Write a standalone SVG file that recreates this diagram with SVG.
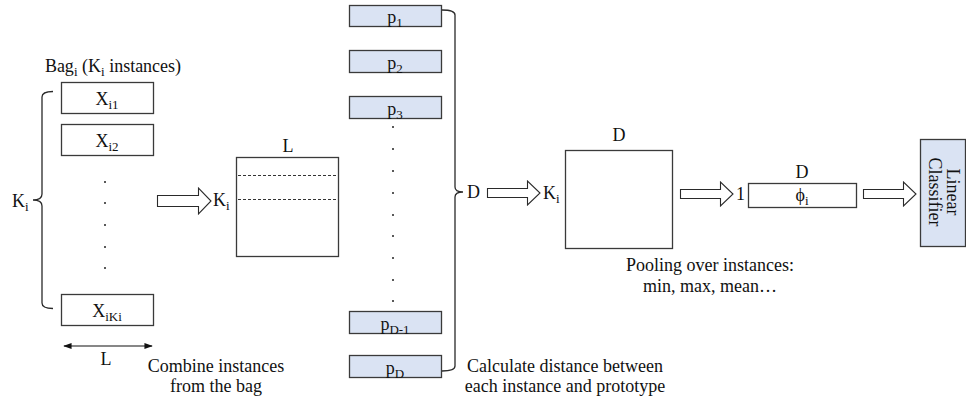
<svg xmlns="http://www.w3.org/2000/svg" width="966" height="404" viewBox="0 0 966 404">
  <defs>
    <style>
      text { font-family: "Liberation Serif", "Times New Roman", serif; font-size: 18px; fill: #111; }
      .cap { font-size: 18px; }
      .mid { text-anchor: middle; }
      .sub { font-size: 13px; }
      .box { fill: #fff; stroke: #3a3a3a; stroke-width: 1.3; }
      .proto { fill: #dae3f3; stroke: #3a3a3a; stroke-width: 1.3; }
      .blk { fill: #fff; stroke: #2a2a2a; stroke-width: 1.1; }
      .brace { fill: none; stroke: #2a2a2a; stroke-width: 1.3; }
      .dash { stroke: #333; stroke-width: 1; stroke-dasharray: 3 2; }
      .dot { fill: #222; }
    </style>
    <marker id="tip" viewBox="0 0 10 10" refX="9" refY="5" markerWidth="7" markerHeight="7" orient="auto-start-reverse">
      <path d="M0,1.5 L10,5 L0,8.5 Z" fill="#111"/>
    </marker>
  </defs>

  <!-- bag of instances -->
  <g id="bag">
    <text class="cap mid" x="113" y="72">Bag<tspan class="sub" dy="4">i</tspan><tspan dy="-4"> (K</tspan><tspan class="sub" dy="4">i</tspan><tspan dy="-4"> instances)</tspan></text>
    <g id="x-i1">
      <rect class="box" x="61.5" y="82.5" width="92" height="31"/>
      <text class="mid" x="107" y="105">X<tspan class="sub" dy="4">i1</tspan></text>
    </g>
    <g id="x-i2">
      <rect class="box" x="61.5" y="124.5" width="92" height="31"/>
      <text class="mid" x="107" y="147">X<tspan class="sub" dy="4">i2</tspan></text>
    </g>
    <g id="x-dots">
      <circle class="dot" cx="105" cy="182" r="1"/>
      <circle class="dot" cx="105" cy="203" r="1"/>
      <circle class="dot" cx="105" cy="225" r="1"/>
      <circle class="dot" cx="105" cy="247" r="1"/>
      <circle class="dot" cx="105" cy="268" r="1"/>
    </g>
    <g id="x-iKi">
      <rect class="box" x="61.5" y="294.5" width="92" height="31"/>
      <text class="mid" x="107" y="317">X<tspan class="sub" dy="4">iKi</tspan></text>
    </g>
    <text x="12" y="207">K<tspan class="sub" dy="4">i</tspan></text>
    <g id="width-L">
      <line x1="64" y1="346" x2="152" y2="346" stroke="#111" stroke-width="1.2" marker-start="url(#tip)" marker-end="url(#tip)"/>
      <text class="mid" x="106" y="365">L</text>
    </g>
    <text class="cap mid" x="216" y="372">Combine instances</text>
    <text class="cap mid" x="216" y="392">from the bag</text>
  </g>

  <!-- combined instance matrix -->
  <g id="matrix-L">
    <text class="mid" x="288" y="152">L</text>
    <rect class="box" x="236.5" y="157.5" width="102" height="99"/>
    <line class="dash" x1="238" y1="175.5" x2="337" y2="175.5"/>
    <line class="dash" x1="238" y1="199.5" x2="337" y2="199.5"/>
    <text x="213" y="206">K<tspan class="sub" dy="4">i</tspan></text>
  </g>

  <!-- prototypes -->
  <g id="prototypes">
    <g id="p1">
      <rect class="proto" x="349.5" y="5.5" width="92" height="21"/>
      <text class="mid" x="395" y="23">p<tspan class="sub" dy="4">1</tspan></text>
    </g>
    <g id="p2">
      <rect class="proto" x="349.5" y="50.5" width="92" height="22"/>
      <text class="mid" x="395" y="69">p<tspan class="sub" dy="4">2</tspan></text>
    </g>
    <g id="p3">
      <rect class="proto" x="349.5" y="96.5" width="92" height="22"/>
      <text class="mid" x="395" y="115">p<tspan class="sub" dy="4">3</tspan></text>
    </g>
    <g id="p-dots">
      <circle class="dot" cx="393" cy="127" r="1"/>
      <circle class="dot" cx="393" cy="149" r="1"/>
      <circle class="dot" cx="393" cy="171" r="1"/>
      <circle class="dot" cx="393" cy="193" r="1"/>
      <circle class="dot" cx="393" cy="215" r="1"/>
      <circle class="dot" cx="393" cy="236" r="1"/>
      <circle class="dot" cx="393" cy="258" r="1"/>
      <circle class="dot" cx="393" cy="280" r="1"/>
      <circle class="dot" cx="393" cy="301" r="1"/>
    </g>
    <g id="p-D-1">
      <rect class="proto" x="349.5" y="311.5" width="92" height="22"/>
      <text class="mid" x="395" y="330">p<tspan class="sub" dy="4">D-1</tspan></text>
    </g>
    <g id="p-D">
      <rect class="proto" x="349.5" y="355.5" width="92" height="22"/>
      <text class="mid" x="395" y="374">p<tspan class="sub" dy="4">D</tspan></text>
    </g>
    <text x="467" y="198">D</text>
    <text class="cap mid" x="565" y="372">Calculate distance between</text>
    <text class="cap mid" x="565" y="392">each instance and prototype</text>
  </g>

  <!-- distance matrix -->
  <g id="matrix-D">
    <text class="mid" x="619" y="141">D</text>
    <rect class="box" x="565.5" y="150.5" width="107" height="98"/>
    <text x="543" y="199">K<tspan class="sub" dy="4">i</tspan></text>
    <text class="cap mid" x="710" y="271">Pooling over instances:</text>
    <text class="cap mid" x="710" y="292">min, max, mean…</text>
  </g>

  <!-- pooled bag vector -->
  <g id="phi">
    <text class="mid" x="802" y="178">D</text>
    <text x="736" y="200">1</text>
    <rect class="box" x="748.5" y="183.5" width="108" height="24"/>
    <text class="mid" x="802" y="201">ϕ<tspan class="sub" dy="4">i</tspan></text>
  </g>

  <!-- classifier -->
  <g id="classifier">
    <rect class="proto" x="920.5" y="139.5" width="45" height="107"/>
    <text class="cap mid" transform="translate(947,192) rotate(90)">Linear</text>
    <text class="cap mid" transform="translate(929,192) rotate(90)">Classifier</text>
  </g>

  <!-- braces and block arrows -->
  <g id="connectors">
    <path class="brace" d="M53,91.5 Q42,91.5 42,97 V194 Q42,200 33,200 Q42,200 42,206 V303 Q42,308.5 53,308.5"/>
    <path class="brace" d="M442,10 Q455,10 455,15 V187 Q455,192 463,192 Q455,192 455,197 V366 Q455,371 442,371"/>
    <polygon class="blk" points="157.5,195.5 198.5,195.5 198.5,188 211,201 198.5,214 198.5,206.5 157.5,206.5"/>
    <polygon class="blk" points="487.5,188.5 527.5,188.5 527.5,181 540,193 527.5,205 527.5,197.5 487.5,197.5"/>
    <polygon class="blk" points="680.5,189.5 720.5,189.5 720.5,182 733,194 720.5,206 720.5,198.5 680.5,198.5"/>
    <polygon class="blk" points="863.5,189.5 903.5,189.5 903.5,182 916,194 903.5,206 903.5,198.5 863.5,198.5"/>
  </g>
</svg>
